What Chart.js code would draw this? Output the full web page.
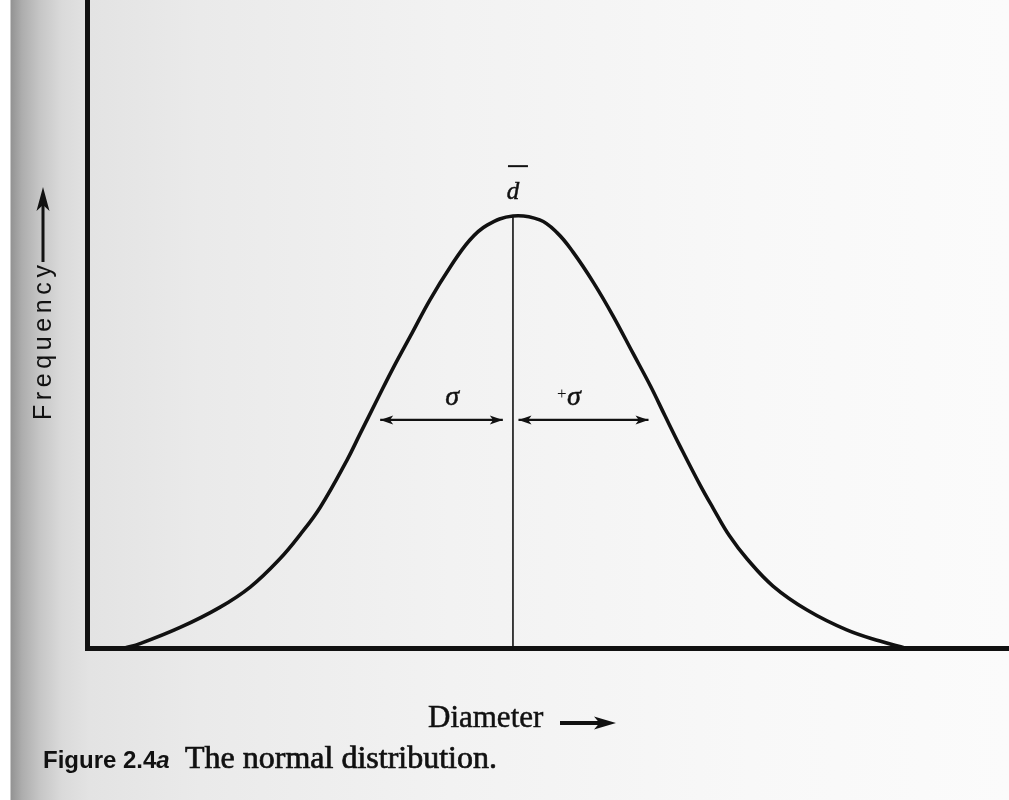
<!DOCTYPE html>
<html>
<head>
<meta charset="utf-8">
<title>The normal distribution</title>
<script src="https://cdn.jsdelivr.net/npm/chart.js@4.4.1/dist/chart.umd.min.js"></script>
<style>
  html, body { margin: 0; padding: 0; }
  body {
    width: 1009px;
    height: 800px;
    overflow: hidden;
    background: linear-gradient(to right,
      #ffffff 0px, #ffffff 10px, #939393 11px, #adadad 22px, #c6c6c6 40px,
      #dadada 62px, #e3e3e3 90px, #eaeaea 200px, #f2f2f2 450px, #f8f8f8 750px, #fbfbfb 1009px);
  }
  #wrap { position: absolute; left: 0; top: 0; width: 1009px; height: 800px; }
</style>
</head>
<body>
<div id="wrap"><canvas id="normalChart" width="1009" height="800"></canvas></div>
<script>
// Bell curve traced as diameter (arbitrary units) vs relative frequency (peak = 100)
const diameter = [4.1, 5.75, 10.1, 14.4, 17.7, 20.9, 23.1, 25.3, 28.2, 29.6, 31.45, 33.2, 35.25, 37.2, 39.4, 41.5, 43.4, 46.2,
                  49.1, 51.0, 52.7, 54.9, 57.05, 59.2, 61.1, 62.7, 64.3, 66.5, 67.9, 69.7, 71.6, 74.4, 78.1, 82.4, 86.0, 88.7];
const frequency = [0, 1.0, 4.75, 9.4, 14.1, 20.6, 26.2, 32.6, 43.5, 49.5, 57.4, 64.8, 72.9, 80.6, 88.2, 94.4, 97.9, 100,
                   99.1, 96.1, 91.7, 84.7, 76.9, 68.3, 60.7, 53.7, 46.8, 37.7, 32.4, 25.9, 20.6, 14.35, 8.8, 4.2, 1.6, 0];

// Mean diameter and the one-sigma spans either side of it
const meanDiameter = 46.2;
const peakFrequency = 100;
const sigmaLevel = 52.8;
const minusSigma = [31.8, 45.1];
const plusSigma = [46.8, 60.9];

const xRange = [0, 100];
const yRange = [0, 150];

const INK = '#111111';

function arrowHead(ctx, tipX, tipY, dirX, dirY, len, half) {
  const px = -dirY, py = dirX;
  ctx.beginPath();
  ctx.moveTo(tipX, tipY);
  ctx.lineTo(tipX - dirX * len + px * half, tipY - dirY * len + py * half);
  ctx.lineTo(tipX - dirX * len * 0.75, tipY - dirY * len * 0.75);
  ctx.lineTo(tipX - dirX * len - px * half, tipY - dirY * len - py * half);
  ctx.closePath();
  ctx.fill();
}

// draw text one glyph at a time so extra tracking works everywhere
function spacedText(ctx, text, x, y, spacing) {
  let cx = x;
  for (const ch of text) {
    ctx.fillText(ch, cx, y);
    cx += ctx.measureText(ch).width + spacing;
  }
}

// printed text is a little heavy, so fill and lightly stroke it
function inkText(ctx, text, x, y, weight) {
  ctx.fillText(text, x, y);
  ctx.lineWidth = weight;
  ctx.strokeText(text, x, y);
}

const annotations = {
  id: 'annotations',
  afterDatasetsDraw(chart) {
    const { ctx, scales: { x, y } } = chart;
    ctx.save();
    ctx.fillStyle = INK;
    ctx.strokeStyle = INK;

    // arrowheads on the sigma spans
    const ay = y.getPixelForValue(sigmaLevel);
    arrowHead(ctx, x.getPixelForValue(minusSigma[0]), ay, -1, 0, 13, 4.5);
    arrowHead(ctx, x.getPixelForValue(minusSigma[1]), ay, 1, 0, 13, 4.5);
    arrowHead(ctx, x.getPixelForValue(plusSigma[0]), ay, -1, 0, 13, 4.5);
    arrowHead(ctx, x.getPixelForValue(plusSigma[1]), ay, 1, 0, 13, 4.5);

    // sigma labels
    ctx.font = 'italic 28px "Liberation Serif", "DejaVu Serif", serif';
    ctx.textAlign = 'center';
    ctx.textBaseline = 'alphabetic';
    const sy = y.getPixelForValue(56.3);
    inkText(ctx, 'σ', x.getPixelForValue(39.6), sy, 0.5);
    const px = x.getPixelForValue(52.8);
    inkText(ctx, 'σ', px, sy, 0.5);
    ctx.font = '17px "Liberation Serif", serif';
    ctx.fillText('+', px - 12, sy - 6);

    // d-bar above the peak
    const mx = x.getPixelForValue(meanDiameter);
    const dy = y.getPixelForValue(103.9);
    ctx.font = 'italic 25px "Liberation Serif", "DejaVu Serif", serif';
    inkText(ctx, 'd', mx, dy, 0.5);
    ctx.lineWidth = 2;
    ctx.beginPath();
    ctx.moveTo(mx - 5, dy - 33);
    ctx.lineTo(mx + 15, dy - 33);
    ctx.stroke();
    ctx.restore();
  },
  afterDraw(chart) {
    const { ctx, chartArea } = chart;
    ctx.save();
    ctx.fillStyle = INK;
    ctx.strokeStyle = INK;

    // y axis title, reading upward, with its arrow
    ctx.save();
    ctx.translate(51, 420);
    ctx.rotate(-Math.PI / 2);
    ctx.font = '25px "Liberation Sans", Arial, sans-serif';
    ctx.textAlign = 'left';
    ctx.textBaseline = 'alphabetic';
    spacedText(ctx, 'Frequency', 0, 0, 4.6);
    ctx.restore();
    ctx.lineWidth = 3;
    ctx.beginPath();
    ctx.moveTo(43, 262);
    ctx.lineTo(43, 200);
    ctx.stroke();
    arrowHead(ctx, 43, 187, 0, -1, 24, 6.5);

    // x axis title with its arrow
    ctx.font = '31px "Liberation Serif", "Times New Roman", serif';
    ctx.textAlign = 'left';
    inkText(ctx, 'Diameter', 428, chartArea.bottom + 79, 0.5);
    ctx.lineWidth = 4;
    ctx.beginPath();
    ctx.moveTo(560, chartArea.bottom + 75);
    ctx.lineTo(600, chartArea.bottom + 75);
    ctx.stroke();
    arrowHead(ctx, 616, chartArea.bottom + 75, 1, 0, 22, 6.5);

    // figure caption
    ctx.font = 'bold 24px "Liberation Sans", Arial, sans-serif';
    ctx.fillText('Figure 2.4', 43, 768);
    const w = ctx.measureText('Figure 2.4').width;
    ctx.font = 'bold italic 24px "Liberation Sans", Arial, sans-serif';
    ctx.fillText('a', 43 + w, 768);
    ctx.font = '32px "Liberation Serif", "Times New Roman", serif';
    inkText(ctx, 'The normal distribution.', 185, 768, 0.7);
    ctx.restore();
  }
};

const ctx = document.getElementById('normalChart').getContext('2d');

new Chart(ctx, {
  type: 'line',
  data: {
    datasets: [
      {
        label: 'Frequency',
        data: diameter.map((d, i) => ({ x: d, y: frequency[i] })),
        borderColor: INK,
        borderWidth: 3.6,
        pointRadius: 0,
        tension: 0.4,
        fill: false
      },
      {
        label: 'Mean',
        data: [{ x: meanDiameter, y: 0 }, { x: meanDiameter, y: peakFrequency }],
        borderColor: INK,
        borderWidth: 1.6,
        pointRadius: 0
      },
      {
        label: '-sigma',
        data: [{ x: minusSigma[0], y: sigmaLevel }, { x: minusSigma[1], y: sigmaLevel }],
        borderColor: INK,
        borderWidth: 2.2,
        pointRadius: 0
      },
      {
        label: '+sigma',
        data: [{ x: plusSigma[0], y: sigmaLevel }, { x: plusSigma[1], y: sigmaLevel }],
        borderColor: INK,
        borderWidth: 2.2,
        pointRadius: 0
      }
    ]
  },
  options: {
    responsive: false,
    animation: false,
    devicePixelRatio: 1,
    layout: { padding: { left: 87, right: 0, top: 0, bottom: 152 } },
    plugins: {
      legend: { display: false },
      tooltip: { enabled: false }
    },
    scales: {
      x: {
        type: 'linear',
        min: xRange[0],
        max: xRange[1],
        ticks: { display: false },
        grid: { display: false, drawTicks: false },
        border: { display: true, color: INK, width: 5 },
        afterFit(scale) { scale.height = 0; }
      },
      y: {
        type: 'linear',
        min: yRange[0],
        max: yRange[1],
        ticks: { display: false },
        grid: { display: false, drawTicks: false },
        border: { display: true, color: INK, width: 5 },
        afterFit(scale) { scale.width = 0; }
      }
    }
  },
  plugins: [annotations]
});
</script>
</body>
</html>
